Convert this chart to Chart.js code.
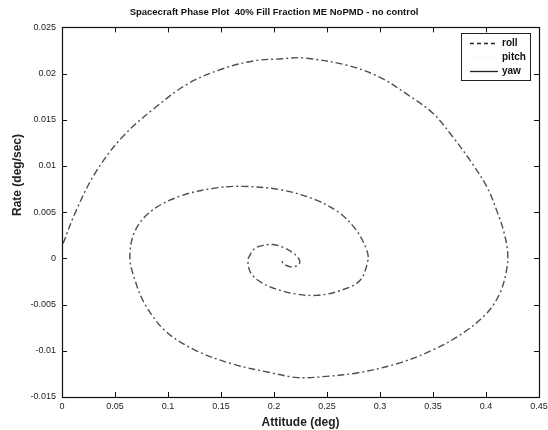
<!DOCTYPE html>
<html>
<head>
<meta charset="utf-8">
<script src="https://cdn.jsdelivr.net/npm/chart.js@4"></script>
<style>
  html, body { margin: 0; padding: 0; background: #fff; }
  #wrap { width: 548px; height: 430px; }
</style>
</head>
<body>
<div id="wrap"><canvas id="c" width="548" height="430"></canvas></div>
<script>
// ---- data ----
const titleText = 'Spacecraft Phase Plot  40% Fill Fraction ME NoPMD - no control';
const xTitle = 'Attitude (deg)';
const yTitle = 'Rate (deg/sec)';
const seriesNames = ['roll', 'pitch', 'yaw'];

const xTickValues = [0, 0.05, 0.1, 0.15, 0.2, 0.25, 0.3, 0.35, 0.4, 0.45];
const xTickLabels = ['0', '0.05', '0.1', '0.15', '0.2', '0.25', '0.3', '0.35', '0.4', '0.45'];
const yTickValues = [-0.015, -0.01, -0.005, 0, 0.005, 0.01, 0.015, 0.02, 0.025];
const yTickLabels = ['-0.015', '-0.01', '-0.005', '0', '0.005', '0.01', '0.015', '0.02', '0.025'];

// attitude (deg) along the spiral
const rollAttitude = [
  0.001, 0.0123, 0.0311, 0.0566, 0.0877, 0.1188, 0.151, 0.182, 0.2075, 0.227,
  0.269, 0.300, 0.325, 0.350, 0.369, 0.385, 0.401, 0.411, 0.417, 0.4205, 0.419,
  0.413, 0.401, 0.378, 0.350, 0.316, 0.278, 0.246, 0.222, 0.198, 0.160,
  0.125, 0.097, 0.078, 0.069, 0.064, 0.069, 0.085, 0.113, 0.144, 0.170,
  0.2075, 0.240, 0.262, 0.278, 0.2875, 0.2886, 0.281, 0.262, 0.240, 0.218,
  0.199, 0.1895, 0.182, 0.177, 0.1754, 0.177, 0.182, 0.1895, 0.199, 0.2084,
  0.218, 0.2225, 0.2244, 0.2216, 0.215, 0.2084, 0.2075
];
// rate (deg/sec) along the spiral
const rollRate = [
  0.0016, 0.0049, 0.0092, 0.0131, 0.0163, 0.0189, 0.0205, 0.0214, 0.0216, 0.0217,
  0.0209, 0.0196, 0.0178, 0.0157, 0.0131, 0.0106, 0.0077, 0.0049, 0.0028, 0.0005, -0.0015,
  -0.0038, -0.0059, -0.0081, -0.0099, -0.0114, -0.0124, -0.0128, -0.0129, -0.0124, -0.0114,
  -0.0099, -0.0078, -0.0049, -0.0024, 0.0001, 0.0030, 0.0052, 0.0068, 0.0076, 0.0078,
  0.0074, 0.0063, 0.0049, 0.0030, 0.0009, -0.0002, -0.0024, -0.0035, -0.0040, -0.0038,
  -0.0032, -0.0027, -0.0021, -0.0013, -0.0002, 0.0003, 0.0011, 0.0014, 0.0015, 0.0012,
  0.0006, 0.0001, -0.0004, -0.0008, -0.0009, -0.0005, -0.0001
];
const pitchAttitude = [];
const pitchRate = [];
const yawAttitude = [];
const yawRate = [];

const toPoints = (xs, ys) => xs.map((x, i) => ({ x: x, y: ys[i] }));

const FONT = "'Liberation Sans', Arial, Helvetica, sans-serif";

const legendSamples = [
  { dash: [4, 3], color: '#222', width: 1.3 },
  { dash: [1, 3], color: '#ddd', width: 1 },
  { dash: [], color: '#222', width: 1.3 }
];

const framePlugin = {
  id: 'frame',
  afterDraw(chart) {
    const ctx = chart.ctx;
    const a = chart.chartArea;
    const xs = chart.scales.x, ys = chart.scales.y;
    ctx.save();
    ctx.strokeStyle = '#111';
    ctx.lineWidth = 1.2;
    ctx.setLineDash([]);
    ctx.strokeRect(Math.round(a.left) + 0.5, Math.round(a.top) + 0.5,
                   Math.round(a.right - a.left), Math.round(a.bottom - a.top));
    ctx.lineWidth = 1;
    ctx.beginPath();
    xTickValues.forEach(v => {
      const p = Math.round(xs.getPixelForValue(v)) + 0.5;
      ctx.moveTo(p, a.bottom); ctx.lineTo(p, a.bottom - 5);
      ctx.moveTo(p, a.top); ctx.lineTo(p, a.top + 5);
    });
    yTickValues.forEach(v => {
      const p = Math.round(ys.getPixelForValue(v)) + 0.5;
      ctx.moveTo(a.left, p); ctx.lineTo(a.left + 5, p);
      ctx.moveTo(a.right, p); ctx.lineTo(a.right - 5, p);
    });
    ctx.stroke();

    // y axis title
    ctx.save();
    ctx.translate(18, 175);
    ctx.rotate(-Math.PI / 2);
    ctx.fillStyle = '#222';
    ctx.font = 'bold 12px ' + FONT;
    ctx.textAlign = 'center';
    ctx.textBaseline = 'middle';
    ctx.fillText(yTitle, 0, 0);
    ctx.restore();

    // legend box
    const bx = 461, by = 33, bw = 69, bh = 47;
    ctx.fillStyle = '#fff';
    ctx.fillRect(bx, by, bw, bh);
    ctx.strokeStyle = '#222';
    ctx.lineWidth = 1;
    ctx.strokeRect(bx + 0.5, by + 0.5, bw, bh);
    const rows = [43, 57, 71];
    chart.data.datasets.forEach((ds, i) => {
      const s = legendSamples[i];
      ctx.strokeStyle = s.color;
      ctx.lineWidth = s.width;
      ctx.setLineDash(s.dash);
      ctx.beginPath();
      ctx.moveTo(470, rows[i] + 0.5);
      ctx.lineTo(498, rows[i] + 0.5);
      ctx.stroke();
      ctx.setLineDash([]);
      ctx.fillStyle = '#111';
      ctx.font = 'bold 10px ' + FONT;
      ctx.textAlign = 'left';
      ctx.textBaseline = 'middle';
      ctx.fillText(ds.label, 502, rows[i]);
    });
    ctx.restore();
  }
};

new Chart(document.getElementById('c'), {
  type: 'scatter',
  data: {
    datasets: [
      {
        label: seriesNames[0],
        data: toPoints(rollAttitude, rollRate),
        showLine: true,
        borderColor: '#4f4f4f',
        borderWidth: 1.4,
        borderDash: [7, 3, 2, 3],
        pointRadius: 0,
        tension: 0.35,
        fill: false
      },
      {
        label: seriesNames[1],
        data: toPoints(pitchAttitude, pitchRate),
        showLine: true,
        borderColor: '#bbb',
        borderWidth: 1,
        borderDash: [1, 3],
        pointRadius: 0
      },
      {
        label: seriesNames[2],
        data: toPoints(yawAttitude, yawRate),
        showLine: true,
        borderColor: '#222',
        borderWidth: 1.3,
        pointRadius: 0
      }
    ]
  },
  options: {
    responsive: false,
    animation: false,
    devicePixelRatio: 1,
    layout: { padding: { left: 0, right: 0, top: 0, bottom: 0 } },
    plugins: {
      legend: { display: false },
      tooltip: { enabled: false },
      title: {
        display: true,
        text: titleText,
        color: '#111',
        font: { family: FONT, size: 9.5, weight: 'bold' },
        padding: { top: 7, bottom: 9 }
      }
    },
    scales: {
      x: {
        type: 'linear',
        min: 0,
        max: 0.45,
        afterBuildTicks: s => { s.ticks = xTickValues.map(v => ({ value: v })); },
        afterFit: s => { s.height = 33; s.paddingRight = 9; },
        grid: { display: false, drawTicks: false },
        border: { display: true, color: '#111', width: 1 },
        ticks: {
          color: '#222',
          font: { family: FONT, size: 9 },
          padding: 4,
          maxRotation: 0,
          autoSkip: false,
          callback: (v, i) => xTickLabels[i]
        },
        title: {
          display: true,
          text: xTitle,
          color: '#222',
          font: { family: FONT, size: 12, weight: 'bold' },
          padding: { top: 3, bottom: 0 }
        }
      },
      y: {
        type: 'linear',
        min: -0.015,
        max: 0.025,
        afterBuildTicks: s => { s.ticks = yTickValues.map(v => ({ value: v })); },
        afterFit: s => { s.width = 62; },
        grid: { display: false, drawTicks: false },
        border: { display: true, color: '#111', width: 1 },
        ticks: {
          color: '#222',
          font: { family: FONT, size: 9 },
          padding: 6,
          autoSkip: false,
          callback: (v, i) => yTickLabels[i]
        }
      }
    }
  },
  plugins: [framePlugin]
});
</script>
</body>
</html>
